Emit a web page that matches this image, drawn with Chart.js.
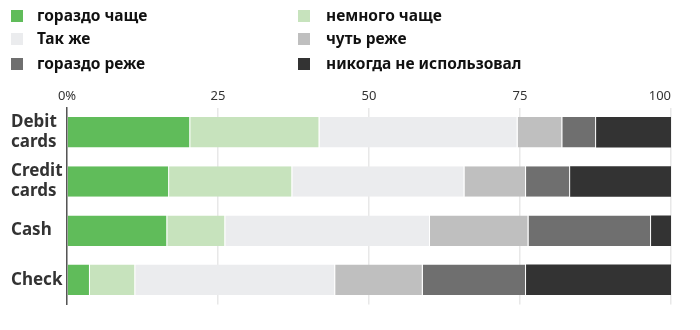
<!DOCTYPE html>
<html>
<head>
<meta charset="utf-8">
<script src="https://cdn.jsdelivr.net/npm/chart.js@4/dist/chart.umd.min.js"></script>
<style>
html,body{margin:0;padding:0;background:#fff;}
#wrap{width:700px;height:330px;position:relative;}
</style>
</head>
<body>
<div id="wrap"><canvas id="c" width="700" height="330"></canvas></div>
<script>
const categories = ['Debit cards', 'Credit cards', 'Cash', 'Check'];
const seriesLabels = ['гораздо чаще', 'немного чаще', 'Так же', 'чуть реже', 'гораздо реже', 'никогда не использовал'];
const muchMore   = [20.4, 16.9, 16.6, 3.8];
const slightlyMore = [21.4, 20.4, 9.6, 7.5];
const same       = [32.8, 28.5, 33.9, 33.1];
const slightlyLess = [7.4, 10.2, 16.3, 14.5];
const muchLess   = [5.6, 7.3, 20.3, 17.1];
const never      = [12.4, 16.7, 3.3, 24.0];
const tickValues = [0, 25, 50, 75, 100];
const tickLabels = ['0%', '25', '50', '75', '100'];

const colors = ['#60bc5a', '#c7e3bd', '#ebecee', '#bfbfbf', '#6f6f6f', '#333333'];
const seriesData = [muchMore, slightlyMore, same, slightlyLess, muchLess, never];

const FONT = '"Noto Sans", "DejaVu Sans", sans-serif';

const legendPlugin = {
  id: 'gridLegend',
  afterDraw(chart) {
    const ctx = chart.ctx;
    const colX = [11, 298];
    const textX = [37, 326];
    const rowY = [16, 39, 64];
    ctx.save();
    chart.data.datasets.forEach((ds, i) => {
      const col = i % 2, row = Math.floor(i / 2);
      ctx.fillStyle = ds.backgroundColor;
      ctx.fillRect(colX[col], rowY[row] - 6, 12, 12);
      ctx.fillStyle = '#111';
      ctx.font = 'bold 15.5px ' + FONT;
      ctx.textBaseline = 'middle';
      ctx.textAlign = 'left';
      ctx.fillText(ds.label, textX[col], rowY[row] + 1);
    });
    ctx.restore();
  }
};

new Chart(document.getElementById('c'), {
  type: 'bar',
  data: {
    labels: categories,
    datasets: seriesLabels.map((lab, i) => ({
      label: lab,
      data: seriesData[i],
      backgroundColor: colors[i],
      borderColor: '#ffffff',
      borderWidth: {left: 0, top: 0, bottom: 0, right: i === seriesLabels.length - 1 ? 0 : 1},
      borderSkipped: false,
      barPercentage: 0.62,
      categoryPercentage: 1.0
    }))
  },
  options: {
    indexAxis: 'y',
    responsive: false,
    animation: false,
    layout: {padding: {top: 84, left: 11, right: 29, bottom: 17}},
    plugins: {legend: {display: false}, tooltip: {enabled: false}},
    scales: {
      x: {
        position: 'top',
        stacked: true,
        min: 0, max: 100,
        afterBuildTicks: s => { s.ticks = tickValues.map(v => ({value: v})); },
        ticks: {
          callback: (v, i) => i === tickLabels.length - 1 ? tickLabels[i] + '\u2007\u2007\u2007' : tickLabels[i],
          font: {family: FONT, size: 13},
          color: '#333',
          padding: 4,
          maxRotation: 0
        },
        grid: {color: '#e8e8e8', lineWidth: 1.5, drawTicks: false},
        border: {display: false}
      },
      y: {
        stacked: true,
        afterFit: s => { s.width = 56; },
        ticks: {
          crossAlign: 'far',
          callback: function(v) { return this.getLabelForValue(v).split(' '); },
          font: {family: FONT, size: 17, weight: 'bold', lineHeight: 1.15},
          color: '#333',
          padding: 6
        },
        grid: {display: false},
        border: {display: true, color: '#555', width: 1.5}
      }
    }
  },
  plugins: [legendPlugin]
});
</script>
</body>
</html>
